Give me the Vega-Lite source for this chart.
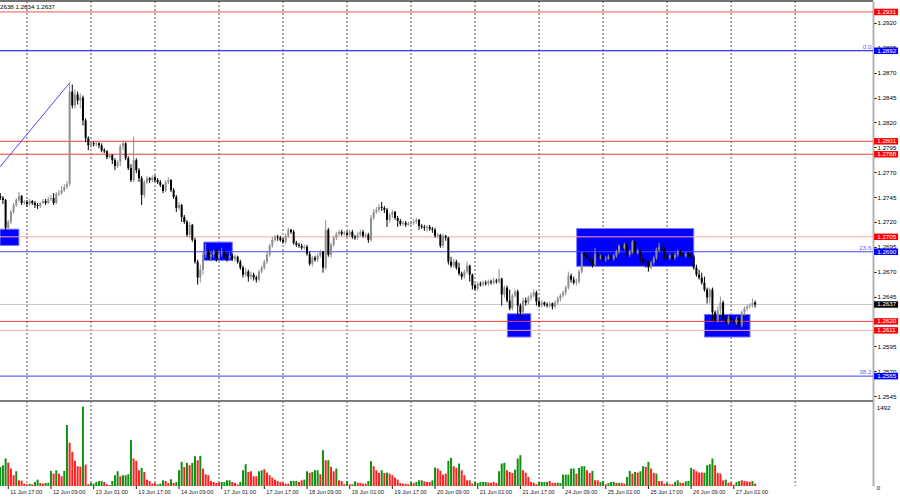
{
"$schema": "https://vega.github.io/schema/vega-lite/v6.json",
"width": 873, "height": 485,
"padding": {"left": 0, "top": 1, "right": 27, "bottom": 14},
"autosize": {"type": "none"},
"background": "#ffffff",
"config": {"view": {"stroke": null}, "font": "Liberation Sans"},
"resolve": {"scale": {"y": "independent", "color": "independent", "strokeWidth": "independent"}},
"datasets": {
"bars": [
{"i":0,"o":1.2746,"h":1.2749,"l":1.2742,"c":1.2744,"v":359,"u":1},
{"i":1,"o":1.2744,"h":1.2746,"l":1.2738,"c":1.2742,"v":391,"u":1},
{"i":2,"o":1.2742,"h":1.2743,"l":1.2710,"c":1.2714,"v":517,"u":1},
{"i":3,"o":1.2714,"h":1.2722,"l":1.2712,"c":1.2720,"v":441,"u":0},
{"i":4,"o":1.2720,"h":1.2732,"l":1.2718,"c":1.2730,"v":328,"u":0},
{"i":5,"o":1.2730,"h":1.2739,"l":1.2728,"c":1.2737,"v":202,"u":0},
{"i":6,"o":1.2737,"h":1.2744,"l":1.2735,"c":1.2742,"v":277,"u":1},
{"i":7,"o":1.2742,"h":1.2750,"l":1.2740,"c":1.2746,"v":107,"u":0},
{"i":8,"o":1.2746,"h":1.2747,"l":1.2737,"c":1.2739,"v":100,"u":0},
{"i":9,"o":1.2739,"h":1.2742,"l":1.2737,"c":1.2740,"v":44,"u":0},
{"i":10,"o":1.2740,"h":1.2742,"l":1.2735,"c":1.2738,"v":32,"u":0},
{"i":11,"o":1.2738,"h":1.2743,"l":1.2736,"c":1.2741,"v":44,"u":1},
{"i":12,"o":1.2741,"h":1.2742,"l":1.2737,"c":1.2739,"v":32,"u":0},
{"i":13,"o":1.2739,"h":1.2741,"l":1.2734,"c":1.2737,"v":76,"u":1},
{"i":14,"o":1.2737,"h":1.2739,"l":1.2733,"c":1.2736,"v":120,"u":1},
{"i":15,"o":1.2736,"h":1.2740,"l":1.2734,"c":1.2739,"v":57,"u":0},
{"i":16,"o":1.2739,"h":1.2743,"l":1.2738,"c":1.2741,"v":44,"u":0},
{"i":17,"o":1.2741,"h":1.2743,"l":1.2737,"c":1.2739,"v":57,"u":1},
{"i":18,"o":1.2739,"h":1.2745,"l":1.2738,"c":1.2743,"v":60,"u":1},
{"i":19,"o":1.2743,"h":1.2747,"l":1.2741,"c":1.2744,"v":284,"u":1},
{"i":20,"o":1.2744,"h":1.2749,"l":1.2737,"c":1.2739,"v":233,"u":0},
{"i":21,"o":1.2739,"h":1.2750,"l":1.2738,"c":1.2748,"v":296,"u":1},
{"i":22,"o":1.2748,"h":1.2752,"l":1.2746,"c":1.2749,"v":233,"u":0},
{"i":23,"o":1.2749,"h":1.2756,"l":1.2747,"c":1.2752,"v":183,"u":0},
{"i":24,"o":1.2752,"h":1.2758,"l":1.2750,"c":1.2755,"v":284,"u":1},
{"i":25,"o":1.2755,"h":1.2761,"l":1.2753,"c":1.2758,"v":1147,"u":1},
{"i":26,"o":1.2758,"h":1.2861,"l":1.2756,"c":1.2851,"v":813,"u":0},
{"i":27,"o":1.2851,"h":1.2858,"l":1.2834,"c":1.2837,"v":643,"u":0},
{"i":28,"o":1.2837,"h":1.2853,"l":1.2834,"c":1.2848,"v":473,"u":0},
{"i":29,"o":1.2848,"h":1.2851,"l":1.2838,"c":1.2842,"v":372,"u":0},
{"i":30,"o":1.2842,"h":1.2849,"l":1.2834,"c":1.2845,"v":365,"u":0},
{"i":31,"o":1.2845,"h":1.2847,"l":1.2817,"c":1.2822,"v":1492,"u":1},
{"i":32,"o":1.2822,"h":1.2824,"l":1.2800,"c":1.2804,"v":403,"u":0},
{"i":33,"o":1.2804,"h":1.2806,"l":1.2792,"c":1.2797,"v":32,"u":0},
{"i":34,"o":1.2797,"h":1.2801,"l":1.2795,"c":1.2799,"v":57,"u":1},
{"i":35,"o":1.2799,"h":1.2801,"l":1.2796,"c":1.2798,"v":44,"u":1},
{"i":36,"o":1.2798,"h":1.2801,"l":1.2796,"c":1.2799,"v":76,"u":1},
{"i":37,"o":1.2799,"h":1.2800,"l":1.2794,"c":1.2797,"v":95,"u":1},
{"i":38,"o":1.2797,"h":1.2799,"l":1.2790,"c":1.2792,"v":95,"u":1},
{"i":39,"o":1.2792,"h":1.2794,"l":1.2789,"c":1.2791,"v":76,"u":0},
{"i":40,"o":1.2791,"h":1.2792,"l":1.2783,"c":1.2785,"v":32,"u":0},
{"i":41,"o":1.2785,"h":1.2789,"l":1.2784,"c":1.2787,"v":19,"u":0},
{"i":42,"o":1.2787,"h":1.2788,"l":1.2778,"c":1.2782,"v":95,"u":1},
{"i":43,"o":1.2782,"h":1.2784,"l":1.2772,"c":1.2776,"v":202,"u":1},
{"i":44,"o":1.2776,"h":1.2782,"l":1.2774,"c":1.2780,"v":277,"u":1},
{"i":45,"o":1.2780,"h":1.2798,"l":1.2776,"c":1.2796,"v":183,"u":0},
{"i":46,"o":1.2796,"h":1.2802,"l":1.2792,"c":1.2799,"v":202,"u":1},
{"i":47,"o":1.2799,"h":1.2800,"l":1.2782,"c":1.2784,"v":202,"u":1},
{"i":48,"o":1.2784,"h":1.2786,"l":1.2772,"c":1.2774,"v":221,"u":1},
{"i":49,"o":1.2774,"h":1.2778,"l":1.2760,"c":1.2762,"v":863,"u":1},
{"i":50,"o":1.2762,"h":1.2806,"l":1.2760,"c":1.2782,"v":517,"u":0},
{"i":51,"o":1.2782,"h":1.2784,"l":1.2769,"c":1.2772,"v":473,"u":0},
{"i":52,"o":1.2772,"h":1.2774,"l":1.2760,"c":1.2764,"v":296,"u":0},
{"i":53,"o":1.2764,"h":1.2766,"l":1.2737,"c":1.2747,"v":340,"u":1},
{"i":54,"o":1.2747,"h":1.2762,"l":1.2744,"c":1.2760,"v":265,"u":0},
{"i":55,"o":1.2760,"h":1.2766,"l":1.2758,"c":1.2764,"v":120,"u":0},
{"i":56,"o":1.2764,"h":1.2765,"l":1.2759,"c":1.2762,"v":95,"u":0},
{"i":57,"o":1.2762,"h":1.2767,"l":1.2760,"c":1.2765,"v":44,"u":0},
{"i":58,"o":1.2765,"h":1.2767,"l":1.2760,"c":1.2762,"v":57,"u":0},
{"i":59,"o":1.2762,"h":1.2764,"l":1.2758,"c":1.2760,"v":32,"u":1},
{"i":60,"o":1.2760,"h":1.2762,"l":1.2755,"c":1.2757,"v":44,"u":1},
{"i":61,"o":1.2757,"h":1.2758,"l":1.2749,"c":1.2751,"v":107,"u":1},
{"i":62,"o":1.2751,"h":1.2762,"l":1.2750,"c":1.2760,"v":95,"u":0},
{"i":63,"o":1.2760,"h":1.2765,"l":1.2758,"c":1.2762,"v":57,"u":0},
{"i":64,"o":1.2762,"h":1.2763,"l":1.2750,"c":1.2752,"v":126,"u":1},
{"i":65,"o":1.2752,"h":1.2754,"l":1.2743,"c":1.2745,"v":57,"u":0},
{"i":66,"o":1.2745,"h":1.2747,"l":1.2730,"c":1.2734,"v":76,"u":1},
{"i":67,"o":1.2734,"h":1.2740,"l":1.2732,"c":1.2737,"v":296,"u":1},
{"i":68,"o":1.2737,"h":1.2738,"l":1.2720,"c":1.2725,"v":454,"u":1},
{"i":69,"o":1.2725,"h":1.2727,"l":1.2718,"c":1.2720,"v":359,"u":0},
{"i":70,"o":1.2720,"h":1.2722,"l":1.2705,"c":1.2707,"v":435,"u":1},
{"i":71,"o":1.2707,"h":1.2720,"l":1.2704,"c":1.2717,"v":391,"u":0},
{"i":72,"o":1.2717,"h":1.2718,"l":1.2700,"c":1.2702,"v":435,"u":1},
{"i":73,"o":1.2702,"h":1.2704,"l":1.2678,"c":1.2680,"v":561,"u":1},
{"i":74,"o":1.2680,"h":1.2682,"l":1.2657,"c":1.2664,"v":485,"u":0},
{"i":75,"o":1.2664,"h":1.2677,"l":1.2659,"c":1.2672,"v":567,"u":1},
{"i":76,"o":1.2672,"h":1.2690,"l":1.2667,"c":1.2687,"v":328,"u":0},
{"i":77,"o":1.2687,"h":1.2698,"l":1.2684,"c":1.2690,"v":221,"u":0},
{"i":78,"o":1.2690,"h":1.2692,"l":1.2682,"c":1.2685,"v":202,"u":0},
{"i":79,"o":1.2685,"h":1.2690,"l":1.2680,"c":1.2687,"v":95,"u":0},
{"i":80,"o":1.2687,"h":1.2692,"l":1.2684,"c":1.2690,"v":76,"u":0},
{"i":81,"o":1.2690,"h":1.2692,"l":1.2680,"c":1.2684,"v":57,"u":0},
{"i":82,"o":1.2684,"h":1.2691,"l":1.2682,"c":1.2688,"v":63,"u":0},
{"i":83,"o":1.2688,"h":1.2694,"l":1.2685,"c":1.2689,"v":76,"u":1},
{"i":84,"o":1.2689,"h":1.2691,"l":1.2683,"c":1.2686,"v":76,"u":1},
{"i":85,"o":1.2686,"h":1.2688,"l":1.2680,"c":1.2684,"v":107,"u":1},
{"i":86,"o":1.2684,"h":1.2689,"l":1.2682,"c":1.2686,"v":107,"u":1},
{"i":87,"o":1.2686,"h":1.2688,"l":1.2681,"c":1.2683,"v":76,"u":0},
{"i":88,"o":1.2683,"h":1.2687,"l":1.2680,"c":1.2685,"v":57,"u":0},
{"i":89,"o":1.2685,"h":1.2686,"l":1.2678,"c":1.2680,"v":32,"u":0},
{"i":90,"o":1.2680,"h":1.2682,"l":1.2672,"c":1.2674,"v":76,"u":1},
{"i":91,"o":1.2674,"h":1.2676,"l":1.2664,"c":1.2667,"v":296,"u":1},
{"i":92,"o":1.2667,"h":1.2674,"l":1.2665,"c":1.2670,"v":410,"u":1},
{"i":93,"o":1.2670,"h":1.2672,"l":1.2660,"c":1.2665,"v":265,"u":0},
{"i":94,"o":1.2665,"h":1.2670,"l":1.2662,"c":1.2667,"v":277,"u":0},
{"i":95,"o":1.2667,"h":1.2669,"l":1.2661,"c":1.2664,"v":183,"u":0},
{"i":96,"o":1.2664,"h":1.2666,"l":1.2659,"c":1.2662,"v":183,"u":0},
{"i":97,"o":1.2662,"h":1.2672,"l":1.2660,"c":1.2670,"v":277,"u":1},
{"i":98,"o":1.2670,"h":1.2676,"l":1.2668,"c":1.2674,"v":296,"u":1},
{"i":99,"o":1.2674,"h":1.2682,"l":1.2672,"c":1.2680,"v":315,"u":0},
{"i":100,"o":1.2680,"h":1.2690,"l":1.2678,"c":1.2687,"v":252,"u":0},
{"i":101,"o":1.2687,"h":1.2698,"l":1.2685,"c":1.2696,"v":202,"u":0},
{"i":102,"o":1.2696,"h":1.2705,"l":1.2694,"c":1.2702,"v":158,"u":0},
{"i":103,"o":1.2702,"h":1.2707,"l":1.2700,"c":1.2705,"v":120,"u":0},
{"i":104,"o":1.2705,"h":1.2707,"l":1.2701,"c":1.2704,"v":95,"u":0},
{"i":105,"o":1.2704,"h":1.2706,"l":1.2700,"c":1.2702,"v":76,"u":0},
{"i":106,"o":1.2702,"h":1.2704,"l":1.2698,"c":1.2700,"v":57,"u":0},
{"i":107,"o":1.2700,"h":1.2708,"l":1.2698,"c":1.2706,"v":44,"u":0},
{"i":108,"o":1.2706,"h":1.2714,"l":1.2704,"c":1.2712,"v":44,"u":0},
{"i":109,"o":1.2712,"h":1.2713,"l":1.2708,"c":1.2710,"v":95,"u":1},
{"i":110,"o":1.2710,"h":1.2712,"l":1.2697,"c":1.2699,"v":95,"u":1},
{"i":111,"o":1.2699,"h":1.2701,"l":1.2695,"c":1.2697,"v":95,"u":1},
{"i":112,"o":1.2697,"h":1.2699,"l":1.2694,"c":1.2696,"v":76,"u":0},
{"i":113,"o":1.2696,"h":1.2698,"l":1.2692,"c":1.2694,"v":107,"u":0},
{"i":114,"o":1.2694,"h":1.2697,"l":1.2692,"c":1.2695,"v":120,"u":1},
{"i":115,"o":1.2695,"h":1.2697,"l":1.2686,"c":1.2688,"v":277,"u":1},
{"i":116,"o":1.2688,"h":1.2690,"l":1.2676,"c":1.2678,"v":246,"u":0},
{"i":117,"o":1.2678,"h":1.2686,"l":1.2675,"c":1.2684,"v":265,"u":1},
{"i":118,"o":1.2684,"h":1.2686,"l":1.2680,"c":1.2682,"v":296,"u":1},
{"i":119,"o":1.2682,"h":1.2688,"l":1.2680,"c":1.2686,"v":296,"u":1},
{"i":120,"o":1.2686,"h":1.2692,"l":1.2684,"c":1.2690,"v":221,"u":0},
{"i":121,"o":1.2690,"h":1.2691,"l":1.2669,"c":1.2674,"v":674,"u":1},
{"i":122,"o":1.2674,"h":1.2722,"l":1.2672,"c":1.2712,"v":485,"u":0},
{"i":123,"o":1.2712,"h":1.2714,"l":1.2685,"c":1.2687,"v":485,"u":1},
{"i":124,"o":1.2687,"h":1.2699,"l":1.2684,"c":1.2697,"v":359,"u":0},
{"i":125,"o":1.2697,"h":1.2706,"l":1.2695,"c":1.2704,"v":277,"u":0},
{"i":126,"o":1.2704,"h":1.2710,"l":1.2702,"c":1.2708,"v":328,"u":1},
{"i":127,"o":1.2708,"h":1.2712,"l":1.2706,"c":1.2710,"v":107,"u":0},
{"i":128,"o":1.2710,"h":1.2712,"l":1.2706,"c":1.2708,"v":95,"u":0},
{"i":129,"o":1.2708,"h":1.2711,"l":1.2706,"c":1.2709,"v":32,"u":0},
{"i":130,"o":1.2709,"h":1.2711,"l":1.2705,"c":1.2707,"v":95,"u":1},
{"i":131,"o":1.2707,"h":1.2712,"l":1.2705,"c":1.2710,"v":32,"u":0},
{"i":132,"o":1.2710,"h":1.2712,"l":1.2703,"c":1.2705,"v":32,"u":1},
{"i":133,"o":1.2705,"h":1.2707,"l":1.2702,"c":1.2704,"v":88,"u":1},
{"i":134,"o":1.2704,"h":1.2710,"l":1.2702,"c":1.2707,"v":63,"u":0},
{"i":135,"o":1.2707,"h":1.2712,"l":1.2705,"c":1.2710,"v":57,"u":0},
{"i":136,"o":1.2710,"h":1.2712,"l":1.2704,"c":1.2706,"v":44,"u":0},
{"i":137,"o":1.2706,"h":1.2709,"l":1.2704,"c":1.2707,"v":44,"u":0},
{"i":138,"o":1.2707,"h":1.2709,"l":1.2699,"c":1.2702,"v":95,"u":1},
{"i":139,"o":1.2702,"h":1.2727,"l":1.2700,"c":1.2724,"v":466,"u":1},
{"i":140,"o":1.2724,"h":1.2733,"l":1.2722,"c":1.2730,"v":372,"u":0},
{"i":141,"o":1.2730,"h":1.2735,"l":1.2728,"c":1.2732,"v":296,"u":0},
{"i":142,"o":1.2732,"h":1.2738,"l":1.2730,"c":1.2735,"v":246,"u":0},
{"i":143,"o":1.2735,"h":1.2740,"l":1.2731,"c":1.2734,"v":296,"u":1},
{"i":144,"o":1.2734,"h":1.2736,"l":1.2729,"c":1.2732,"v":246,"u":0},
{"i":145,"o":1.2732,"h":1.2734,"l":1.2715,"c":1.2722,"v":252,"u":1},
{"i":146,"o":1.2722,"h":1.2729,"l":1.2719,"c":1.2727,"v":233,"u":0},
{"i":147,"o":1.2727,"h":1.2732,"l":1.2724,"c":1.2730,"v":202,"u":0},
{"i":148,"o":1.2730,"h":1.2731,"l":1.2722,"c":1.2724,"v":158,"u":0},
{"i":149,"o":1.2724,"h":1.2726,"l":1.2715,"c":1.2721,"v":120,"u":0},
{"i":150,"o":1.2721,"h":1.2723,"l":1.2716,"c":1.2718,"v":57,"u":0},
{"i":151,"o":1.2718,"h":1.2721,"l":1.2716,"c":1.2719,"v":44,"u":0},
{"i":152,"o":1.2719,"h":1.2721,"l":1.2715,"c":1.2717,"v":44,"u":0},
{"i":153,"o":1.2717,"h":1.2720,"l":1.2716,"c":1.2718,"v":32,"u":0},
{"i":154,"o":1.2718,"h":1.2721,"l":1.2716,"c":1.2719,"v":76,"u":1},
{"i":155,"o":1.2719,"h":1.2723,"l":1.2717,"c":1.2720,"v":57,"u":0},
{"i":156,"o":1.2720,"h":1.2724,"l":1.2718,"c":1.2722,"v":76,"u":1},
{"i":157,"o":1.2722,"h":1.2723,"l":1.2712,"c":1.2716,"v":107,"u":1},
{"i":158,"o":1.2716,"h":1.2718,"l":1.2713,"c":1.2715,"v":107,"u":1},
{"i":159,"o":1.2715,"h":1.2717,"l":1.2711,"c":1.2714,"v":88,"u":0},
{"i":160,"o":1.2714,"h":1.2717,"l":1.2710,"c":1.2715,"v":76,"u":0},
{"i":161,"o":1.2715,"h":1.2717,"l":1.2711,"c":1.2713,"v":76,"u":0},
{"i":162,"o":1.2713,"h":1.2715,"l":1.2709,"c":1.2712,"v":107,"u":1},
{"i":163,"o":1.2712,"h":1.2714,"l":1.2704,"c":1.2706,"v":347,"u":1},
{"i":164,"o":1.2706,"h":1.2709,"l":1.2704,"c":1.2707,"v":328,"u":0},
{"i":165,"o":1.2707,"h":1.2708,"l":1.2694,"c":1.2696,"v":284,"u":0},
{"i":166,"o":1.2696,"h":1.2708,"l":1.2694,"c":1.2706,"v":214,"u":0},
{"i":167,"o":1.2706,"h":1.2707,"l":1.2701,"c":1.2704,"v":233,"u":0},
{"i":168,"o":1.2704,"h":1.2705,"l":1.2677,"c":1.2680,"v":473,"u":1},
{"i":169,"o":1.2680,"h":1.2685,"l":1.2674,"c":1.2676,"v":529,"u":1},
{"i":170,"o":1.2676,"h":1.2683,"l":1.2674,"c":1.2680,"v":372,"u":0},
{"i":171,"o":1.2680,"h":1.2682,"l":1.2672,"c":1.2674,"v":340,"u":0},
{"i":172,"o":1.2674,"h":1.2679,"l":1.2666,"c":1.2668,"v":422,"u":1},
{"i":173,"o":1.2668,"h":1.2670,"l":1.2662,"c":1.2665,"v":296,"u":0},
{"i":174,"o":1.2665,"h":1.2672,"l":1.2663,"c":1.2670,"v":202,"u":0},
{"i":175,"o":1.2670,"h":1.2680,"l":1.2668,"c":1.2676,"v":107,"u":0},
{"i":176,"o":1.2676,"h":1.2677,"l":1.2660,"c":1.2667,"v":107,"u":0},
{"i":177,"o":1.2667,"h":1.2668,"l":1.2652,"c":1.2656,"v":44,"u":0},
{"i":178,"o":1.2656,"h":1.2658,"l":1.2651,"c":1.2653,"v":76,"u":1},
{"i":179,"o":1.2653,"h":1.2660,"l":1.2651,"c":1.2658,"v":57,"u":1},
{"i":180,"o":1.2658,"h":1.2660,"l":1.2655,"c":1.2657,"v":76,"u":1},
{"i":181,"o":1.2657,"h":1.2661,"l":1.2655,"c":1.2659,"v":76,"u":1},
{"i":182,"o":1.2659,"h":1.2661,"l":1.2656,"c":1.2658,"v":76,"u":1},
{"i":183,"o":1.2658,"h":1.2662,"l":1.2656,"c":1.2660,"v":63,"u":0},
{"i":184,"o":1.2660,"h":1.2662,"l":1.2657,"c":1.2659,"v":57,"u":0},
{"i":185,"o":1.2659,"h":1.2664,"l":1.2657,"c":1.2661,"v":76,"u":0},
{"i":186,"o":1.2661,"h":1.2663,"l":1.2658,"c":1.2660,"v":57,"u":0},
{"i":187,"o":1.2660,"h":1.2673,"l":1.2658,"c":1.2663,"v":277,"u":1},
{"i":188,"o":1.2663,"h":1.2664,"l":1.2636,"c":1.2647,"v":422,"u":1},
{"i":189,"o":1.2647,"h":1.2656,"l":1.2644,"c":1.2654,"v":435,"u":1},
{"i":190,"o":1.2654,"h":1.2656,"l":1.2639,"c":1.2641,"v":296,"u":0},
{"i":191,"o":1.2641,"h":1.2652,"l":1.2631,"c":1.2633,"v":265,"u":0},
{"i":192,"o":1.2633,"h":1.2648,"l":1.2631,"c":1.2646,"v":246,"u":0},
{"i":193,"o":1.2646,"h":1.2652,"l":1.2644,"c":1.2650,"v":309,"u":1},
{"i":194,"o":1.2650,"h":1.2652,"l":1.2623,"c":1.2636,"v":517,"u":1},
{"i":195,"o":1.2636,"h":1.2638,"l":1.2625,"c":1.2629,"v":580,"u":1},
{"i":196,"o":1.2629,"h":1.2644,"l":1.2627,"c":1.2641,"v":296,"u":0},
{"i":197,"o":1.2641,"h":1.2644,"l":1.2636,"c":1.2639,"v":252,"u":0},
{"i":198,"o":1.2639,"h":1.2646,"l":1.2637,"c":1.2644,"v":170,"u":0},
{"i":199,"o":1.2644,"h":1.2649,"l":1.2641,"c":1.2646,"v":76,"u":0},
{"i":200,"o":1.2646,"h":1.2652,"l":1.2644,"c":1.2649,"v":63,"u":0},
{"i":201,"o":1.2649,"h":1.2651,"l":1.2636,"c":1.2640,"v":32,"u":0},
{"i":202,"o":1.2640,"h":1.2643,"l":1.2634,"c":1.2636,"v":76,"u":1},
{"i":203,"o":1.2636,"h":1.2641,"l":1.2634,"c":1.2639,"v":76,"u":1},
{"i":204,"o":1.2639,"h":1.2640,"l":1.2635,"c":1.2637,"v":76,"u":1},
{"i":205,"o":1.2637,"h":1.2639,"l":1.2634,"c":1.2636,"v":76,"u":1},
{"i":206,"o":1.2636,"h":1.2640,"l":1.2634,"c":1.2638,"v":95,"u":0},
{"i":207,"o":1.2638,"h":1.2639,"l":1.2632,"c":1.2635,"v":57,"u":0},
{"i":208,"o":1.2635,"h":1.2641,"l":1.2633,"c":1.2639,"v":57,"u":0},
{"i":209,"o":1.2639,"h":1.2645,"l":1.2637,"c":1.2643,"v":63,"u":1},
{"i":210,"o":1.2643,"h":1.2648,"l":1.2640,"c":1.2646,"v":57,"u":1},
{"i":211,"o":1.2646,"h":1.2651,"l":1.2644,"c":1.2649,"v":214,"u":1},
{"i":212,"o":1.2649,"h":1.2656,"l":1.2646,"c":1.2654,"v":214,"u":1},
{"i":213,"o":1.2654,"h":1.2670,"l":1.2652,"c":1.2666,"v":214,"u":1},
{"i":214,"o":1.2666,"h":1.2668,"l":1.2659,"c":1.2662,"v":328,"u":1},
{"i":215,"o":1.2662,"h":1.2665,"l":1.2657,"c":1.2659,"v":328,"u":1},
{"i":216,"o":1.2659,"h":1.2663,"l":1.2656,"c":1.2660,"v":233,"u":0},
{"i":217,"o":1.2660,"h":1.2672,"l":1.2658,"c":1.2670,"v":340,"u":1},
{"i":218,"o":1.2670,"h":1.2690,"l":1.2668,"c":1.2688,"v":372,"u":1},
{"i":219,"o":1.2688,"h":1.2690,"l":1.2685,"c":1.2687,"v":372,"u":1},
{"i":220,"o":1.2687,"h":1.2689,"l":1.2682,"c":1.2684,"v":296,"u":0},
{"i":221,"o":1.2684,"h":1.2689,"l":1.2678,"c":1.2680,"v":246,"u":0},
{"i":222,"o":1.2680,"h":1.2682,"l":1.2674,"c":1.2677,"v":284,"u":1},
{"i":223,"o":1.2677,"h":1.2694,"l":1.2675,"c":1.2688,"v":107,"u":0},
{"i":224,"o":1.2688,"h":1.2690,"l":1.2682,"c":1.2684,"v":107,"u":0},
{"i":225,"o":1.2684,"h":1.2687,"l":1.2682,"c":1.2685,"v":76,"u":1},
{"i":226,"o":1.2685,"h":1.2687,"l":1.2680,"c":1.2682,"v":95,"u":1},
{"i":227,"o":1.2682,"h":1.2686,"l":1.2680,"c":1.2683,"v":32,"u":0},
{"i":228,"o":1.2683,"h":1.2687,"l":1.2682,"c":1.2685,"v":57,"u":1},
{"i":229,"o":1.2685,"h":1.2687,"l":1.2681,"c":1.2683,"v":76,"u":1},
{"i":230,"o":1.2683,"h":1.2688,"l":1.2681,"c":1.2686,"v":76,"u":1},
{"i":231,"o":1.2686,"h":1.2692,"l":1.2684,"c":1.2690,"v":57,"u":0},
{"i":232,"o":1.2690,"h":1.2697,"l":1.2688,"c":1.2696,"v":57,"u":1},
{"i":233,"o":1.2696,"h":1.2698,"l":1.2692,"c":1.2694,"v":57,"u":0},
{"i":234,"o":1.2694,"h":1.2699,"l":1.2692,"c":1.2697,"v":44,"u":0},
{"i":235,"o":1.2697,"h":1.2698,"l":1.2684,"c":1.2687,"v":170,"u":1},
{"i":236,"o":1.2687,"h":1.2692,"l":1.2685,"c":1.2690,"v":284,"u":1},
{"i":237,"o":1.2690,"h":1.2702,"l":1.2688,"c":1.2700,"v":233,"u":0},
{"i":238,"o":1.2700,"h":1.2701,"l":1.2687,"c":1.2689,"v":265,"u":1},
{"i":239,"o":1.2689,"h":1.2693,"l":1.2687,"c":1.2691,"v":252,"u":0},
{"i":240,"o":1.2691,"h":1.2692,"l":1.2679,"c":1.2682,"v":277,"u":1},
{"i":241,"o":1.2682,"h":1.2684,"l":1.2677,"c":1.2680,"v":372,"u":1},
{"i":242,"o":1.2680,"h":1.2684,"l":1.2674,"c":1.2679,"v":359,"u":0},
{"i":243,"o":1.2679,"h":1.2681,"l":1.2670,"c":1.2674,"v":454,"u":1},
{"i":244,"o":1.2674,"h":1.2681,"l":1.2672,"c":1.2679,"v":328,"u":0},
{"i":245,"o":1.2679,"h":1.2686,"l":1.2677,"c":1.2684,"v":246,"u":0},
{"i":246,"o":1.2684,"h":1.2694,"l":1.2682,"c":1.2692,"v":233,"u":1},
{"i":247,"o":1.2692,"h":1.2699,"l":1.2690,"c":1.2695,"v":95,"u":0},
{"i":248,"o":1.2695,"h":1.2697,"l":1.2690,"c":1.2692,"v":95,"u":0},
{"i":249,"o":1.2692,"h":1.2694,"l":1.2682,"c":1.2686,"v":44,"u":0},
{"i":250,"o":1.2686,"h":1.2688,"l":1.2682,"c":1.2684,"v":57,"u":1},
{"i":251,"o":1.2684,"h":1.2688,"l":1.2682,"c":1.2686,"v":32,"u":0},
{"i":252,"o":1.2686,"h":1.2688,"l":1.2682,"c":1.2684,"v":32,"u":0},
{"i":253,"o":1.2684,"h":1.2689,"l":1.2682,"c":1.2687,"v":76,"u":1},
{"i":254,"o":1.2687,"h":1.2692,"l":1.2685,"c":1.2690,"v":107,"u":1},
{"i":255,"o":1.2690,"h":1.2692,"l":1.2685,"c":1.2687,"v":63,"u":0},
{"i":256,"o":1.2687,"h":1.2689,"l":1.2684,"c":1.2686,"v":57,"u":0},
{"i":257,"o":1.2686,"h":1.2690,"l":1.2684,"c":1.2688,"v":88,"u":1},
{"i":258,"o":1.2688,"h":1.2690,"l":1.2684,"c":1.2686,"v":95,"u":1},
{"i":259,"o":1.2686,"h":1.2689,"l":1.2682,"c":1.2685,"v":340,"u":1},
{"i":260,"o":1.2685,"h":1.2687,"l":1.2672,"c":1.2674,"v":315,"u":0},
{"i":261,"o":1.2674,"h":1.2677,"l":1.2665,"c":1.2667,"v":277,"u":0},
{"i":262,"o":1.2667,"h":1.2672,"l":1.2662,"c":1.2664,"v":252,"u":0},
{"i":263,"o":1.2664,"h":1.2669,"l":1.2657,"c":1.2659,"v":252,"u":0},
{"i":264,"o":1.2659,"h":1.2665,"l":1.2650,"c":1.2652,"v":252,"u":1},
{"i":265,"o":1.2652,"h":1.2654,"l":1.2638,"c":1.2644,"v":391,"u":1},
{"i":266,"o":1.2644,"h":1.2654,"l":1.2638,"c":1.2652,"v":410,"u":1},
{"i":267,"o":1.2652,"h":1.2654,"l":1.2621,"c":1.2629,"v":517,"u":1},
{"i":268,"o":1.2629,"h":1.2631,"l":1.2619,"c":1.2621,"v":391,"u":0},
{"i":269,"o":1.2621,"h":1.2635,"l":1.2619,"c":1.2631,"v":246,"u":0},
{"i":270,"o":1.2631,"h":1.2645,"l":1.2627,"c":1.2639,"v":233,"u":0},
{"i":271,"o":1.2639,"h":1.2641,"l":1.2621,"c":1.2623,"v":107,"u":0},
{"i":272,"o":1.2623,"h":1.2626,"l":1.2617,"c":1.2619,"v":120,"u":1},
{"i":273,"o":1.2619,"h":1.2626,"l":1.2617,"c":1.2623,"v":63,"u":0},
{"i":274,"o":1.2623,"h":1.2625,"l":1.2618,"c":1.2621,"v":63,"u":0},
{"i":275,"o":1.2621,"h":1.2623,"l":1.2616,"c":1.2619,"v":25,"u":0},
{"i":276,"o":1.2619,"h":1.2625,"l":1.2617,"c":1.2622,"v":76,"u":1},
{"i":277,"o":1.2622,"h":1.2624,"l":1.2613,"c":1.2616,"v":95,"u":1},
{"i":278,"o":1.2616,"h":1.2631,"l":1.2614,"c":1.2629,"v":107,"u":0},
{"i":279,"o":1.2629,"h":1.2635,"l":1.2626,"c":1.2633,"v":95,"u":0},
{"i":280,"o":1.2633,"h":1.2637,"l":1.2631,"c":1.2635,"v":88,"u":0},
{"i":281,"o":1.2635,"h":1.2638,"l":1.2633,"c":1.2636,"v":76,"u":0},
{"i":282,"o":1.2636,"h":1.2643,"l":1.2634,"c":1.2639,"v":95,"u":1},
{"i":283,"o":1.2639,"h":1.2641,"l":1.2634,"c":1.2637,"v":44,"u":0}
],
"grid": [{"i":10},{"i":34},{"i":58},{"i":82},{"i":106},{"i":130},{"i":154},{"i":178},{"i":202},{"i":226},{"i":250},{"i":274},{"i":298}],
"xlabels": [{"i":3,"t":"11 Jun 17:00"},{"i":19,"t":"12 Jun 09:00"},{"i":35,"t":"13 Jun 01:00"},{"i":51,"t":"13 Jun 17:00"},{"i":67,"t":"14 Jun 09:00"},{"i":83,"t":"17 Jun 01:00"},{"i":99,"t":"17 Jun 17:00"},{"i":115,"t":"18 Jun 09:00"},{"i":131,"t":"19 Jun 01:00"},{"i":147,"t":"19 Jun 17:00"},{"i":163,"t":"20 Jun 09:00"},{"i":179,"t":"21 Jun 01:00"},{"i":195,"t":"21 Jun 17:00"},{"i":211,"t":"24 Jun 09:00"},{"i":227,"t":"25 Jun 01:00"},{"i":243,"t":"25 Jun 17:00"},{"i":259,"t":"26 Jun 09:00"},{"i":275,"t":"27 Jun 01:00"}],
"levels": [{"p":1.2931,"k":"r1"},{"p":1.2892,"k":"b3"},{"p":1.2801,"k":"r"},{"p":1.2788,"k":"r"},{"p":1.2705,"k":"pk"},{"p":1.269,"k":"b2"},{"p":1.2637,"k":"cur"},{"p":1.262,"k":"r"},{"p":1.2611,"k":"pk"},{"p":1.2565,"k":"b1"}],
"zones": [{"x1":-0.1,"x2":7.0,"p1":1.27127,"p2":1.26963},{"x1":76.3,"x2":87.0,"p1":1.26997,"p2":1.26813},{"x1":190.1,"x2":198.9,"p1":1.26277,"p2":1.26043},{"x1":216.1,"x2":260.0,"p1":1.27133,"p2":1.26753},{"x1":264.0,"x2":281.1,"p1":1.2627,"p2":1.26043}],
"fib": [{"i":-0.1,"p":1.27753},{"i":25.8,"p":1.2859}],
"fibtext": [{"p":1.2892,"t":"0.0"},{"p":1.269,"t":"23.6"},{"p":1.2565,"t":"38.2"}],
"tags": [{"p":1.2931,"k":"r"},{"p":1.2892,"k":"b"},{"p":1.2801,"k":"r"},{"p":1.2788,"k":"r"},{"p":1.2705,"k":"r"},{"p":1.269,"k":"b"},{"p":1.2637,"k":"k"},{"p":1.262,"k":"r"},{"p":1.2611,"k":"r"},{"p":1.2565,"k":"b"}],
"vticks": [{"v":0},{"v":1492}]
},
"layer": [
{"data": {"name": "grid"}, "mark": {"type": "rule", "strokeDash": [2, 2], "color": "#555555", "strokeWidth": 1},
 "encoding": {"x": {"field": "i", "type": "quantitative", "scale": {"domain": [-0.1, 327.2], "nice": false, "zero": false, "padding": 0}, "axis": null}}},
{"data": {"name": "zones"}, "mark": {"type": "rect", "fill": "#0000ff", "stroke": "#7a7aff", "strokeWidth": 1},
 "encoding": {"x": {"field": "x1", "type": "quantitative", "scale": {"domain": [-0.1, 327.2], "nice": false, "zero": false, "padding": 0}, "axis": null}, "x2": {"field": "x2"},
  "y": {"field": "p1", "type": "quantitative", "scale": {"domain": [1.2454575, 1.2942], "nice": false, "zero": false}, "axis": null}, "y2": {"field": "p2"}}},
{"data": {"name": "levels"}, "mark": {"type": "rule"},
 "encoding": {"y": {"field": "p", "type": "quantitative", "scale": {"domain": [1.2454575, 1.2942], "nice": false, "zero": false}, "axis": null},
  "color": {"field": "k", "type": "nominal", "scale": {"domain": ["r1", "r", "pk", "b3", "b2", "b1", "cur"], "range": ["#e65a52", "#f03c3c", "#ffa6a6", "#0000ff", "#4646ff", "#3a3aff", "#c8c8c8"]}, "legend": null},
  "strokeWidth": {"field": "k", "type": "nominal", "scale": {"domain": ["r1", "r", "pk", "b3", "b2", "b1", "cur"], "range": [1, 1, 2, 2.5, 2, 1, 1]}, "legend": null}}},
{"data": {"name": "fib"}, "mark": {"type": "line", "color": "#4848ff", "strokeWidth": 1, "clip": true},
 "encoding": {"x": {"field": "i", "type": "quantitative", "scale": {"domain": [-0.1, 327.2], "nice": false, "zero": false, "padding": 0}, "axis": null},
  "y": {"field": "p", "type": "quantitative", "scale": {"domain": [1.2454575, 1.2942], "nice": false, "zero": false}, "axis": null}}},
{"data": {"name": "fibtext"}, "mark": {"type": "text", "align": "right", "baseline": "bottom", "dy": -1, "fontSize": 6.2, "color": "#5a5aff", "font": "Liberation Sans"},
 "encoding": {"x": {"datum": 326.6, "type": "quantitative", "scale": {"domain": [-0.1, 327.2], "nice": false, "zero": false, "padding": 0}, "axis": null},
  "y": {"field": "p", "type": "quantitative", "scale": {"domain": [1.2454575, 1.2942], "nice": false, "zero": false}, "axis": null},
  "text": {"field": "t"}}},
{"data": {"name": "bars"}, "mark": {"type": "rule", "strokeWidth": 1},
 "encoding": {"x": {"field": "i", "type": "quantitative", "scale": {"domain": [-0.1, 327.2], "nice": false, "zero": false, "padding": 0}, "axis": null},
  "y": {"field": "l", "type": "quantitative", "scale": {"domain": [1.2454575, 1.2942], "nice": false, "zero": false},
   "axis": {"orient": "right", "values": [1.2545, 1.257, 1.2595, 1.2645, 1.267, 1.2695, 1.272, 1.2745, 1.277, 1.2795, 1.282, 1.2845, 1.287, 1.2895, 1.292], "format": ".4f", "labelFont": "Liberation Sans", "labelFontSize": 6.2, "labelColor": "#000000", "tickColor": "#000000", "tickSize": 3, "labelPadding": 1, "domainColor": "#b4b4b4", "domainWidth": 2, "grid": false, "title": null, "labelOverlap": false, "labelFlush": false}},
  "y2": {"field": "h"},
  "color": {"condition": {"test": "datum.c >= datum.o", "value": "#8f8f8f"}, "value": "#000000"}}},
{"data": {"name": "bars"}, "mark": {"type": "bar", "width": 2},
 "encoding": {"x": {"field": "i", "type": "quantitative", "scale": {"domain": [-0.1, 327.2], "nice": false, "zero": false, "padding": 0}, "axis": null},
  "y": {"field": "o", "type": "quantitative", "scale": {"domain": [1.2454575, 1.2942], "nice": false, "zero": false}, "axis": null},
  "y2": {"field": "c"},
  "color": {"condition": {"test": "datum.c >= datum.o", "value": "#8f8f8f"}, "value": "#000000"}}},
{"data": {"values": [{}]}, "mark": {"type": "rule", "color": "#444444", "strokeWidth": 1.3},
 "encoding": {"y": {"datum": 1.2942, "type": "quantitative", "scale": {"domain": [1.2454575, 1.2942], "nice": false, "zero": false}, "axis": null}}},
{"data": {"values": [{}]}, "mark": {"type": "rule", "color": "#7c7c7c", "strokeWidth": 2},
 "encoding": {"y": {"datum": 1.254, "type": "quantitative", "scale": {"domain": [1.2454575, 1.2942], "nice": false, "zero": false}, "axis": null}}},
{"data": {"name": "bars"}, "mark": {"type": "bar", "width": 2},
 "encoding": {"x": {"field": "i", "type": "quantitative", "scale": {"domain": [-0.1, 327.2], "nice": false, "zero": false, "padding": 0}, "axis": null},
  "y": {"field": "v", "type": "quantitative", "scale": {"domain": [0, 9116], "nice": false, "zero": true}, "axis": null},
  "color": {"condition": {"test": "datum.u == 1", "value": "#138f13"}, "value": "#ff2020"}}},
{"data": {"name": "vticks"}, "mark": {"type": "text", "align": "left", "baseline": "bottom", "fontSize": 6.2, "color": "#000000", "font": "Liberation Sans", "clip": false},
 "encoding": {"x": {"datum": 328.6, "type": "quantitative", "scale": {"domain": [-0.1, 327.2], "nice": false, "zero": false, "padding": 0}, "axis": null},
  "y": {"field": "v", "type": "quantitative", "scale": {"domain": [0, 9116], "nice": false, "zero": true}, "axis": null},
  "yOffset": {"condition": {"test": "datum.v == 0", "value": -1}, "value": 4.5},
  "text": {"field": "v", "type": "quantitative", "format": "d"}}},
{"data": {"name": "xlabels"}, "mark": {"type": "rule", "color": "#222222", "strokeWidth": 1, "clip": false},
 "encoding": {"x": {"field": "i", "type": "quantitative", "scale": {"domain": [-0.1, 327.2], "nice": false, "zero": false, "padding": 0}, "axis": null},
  "y": {"datum": 1.2454575, "type": "quantitative", "scale": {"domain": [1.2454575, 1.2942], "nice": false, "zero": false}, "axis": null},
  "y2": {"datum": 1.245156}}},
{"data": {"name": "xlabels"}, "mark": {"type": "text", "align": "left", "baseline": "top", "dx": 2, "dy": 3.5, "fontSize": 5.6, "color": "#222222", "font": "Liberation Sans", "clip": false},
 "encoding": {"x": {"field": "i", "type": "quantitative", "scale": {"domain": [-0.1, 327.2], "nice": false, "zero": false, "padding": 0}, "axis": null},
  "y": {"datum": 1.2454575, "type": "quantitative", "scale": {"domain": [1.2454575, 1.2942], "nice": false, "zero": false}, "axis": null},
  "text": {"field": "t"}}},
{"data": {"name": "tags"}, "mark": {"type": "point", "shape": "M-1,-0.27H1V0.27H-1Z", "filled": true, "size": 576, "opacity": 1, "strokeWidth": 0, "clip": false},
 "encoding": {"x": {"datum": 332.1, "type": "quantitative", "scale": {"domain": [-0.1, 327.2], "nice": false, "zero": false, "padding": 0}, "axis": null},
  "y": {"field": "p", "type": "quantitative", "scale": {"domain": [1.2454575, 1.2942], "nice": false, "zero": false}, "axis": null},
  "color": {"field": "k", "type": "nominal", "scale": {"domain": ["r", "b", "k"], "range": ["#ff0000", "#0000ff", "#000000"]}, "legend": null}}},
{"data": {"name": "tags"}, "mark": {"type": "text", "align": "left", "baseline": "middle", "fontSize": 6.2, "color": "#ffffff", "font": "Liberation Sans", "clip": false},
 "encoding": {"x": {"datum": 328.8, "type": "quantitative", "scale": {"domain": [-0.1, 327.2], "nice": false, "zero": false, "padding": 0}, "axis": null},
  "y": {"field": "p", "type": "quantitative", "scale": {"domain": [1.2454575, 1.2942], "nice": false, "zero": false}, "axis": null},
  "text": {"field": "p", "type": "quantitative", "format": ".4f"}}},
{"data": {"values": [{}]}, "mark": {"type": "text", "text": "2638 1.2634 1.2637", "align": "left", "baseline": "middle", "fontSize": 6.2, "color": "#000000", "font": "Liberation Sans"},
 "encoding": {"x": {"datum": -0.1, "type": "quantitative", "scale": {"domain": [-0.1, 327.2], "nice": false, "zero": false, "padding": 0}, "axis": null},
  "y": {"datum": 1.2936, "type": "quantitative", "scale": {"domain": [1.2454575, 1.2942], "nice": false, "zero": false}, "axis": null}}}
]
}
